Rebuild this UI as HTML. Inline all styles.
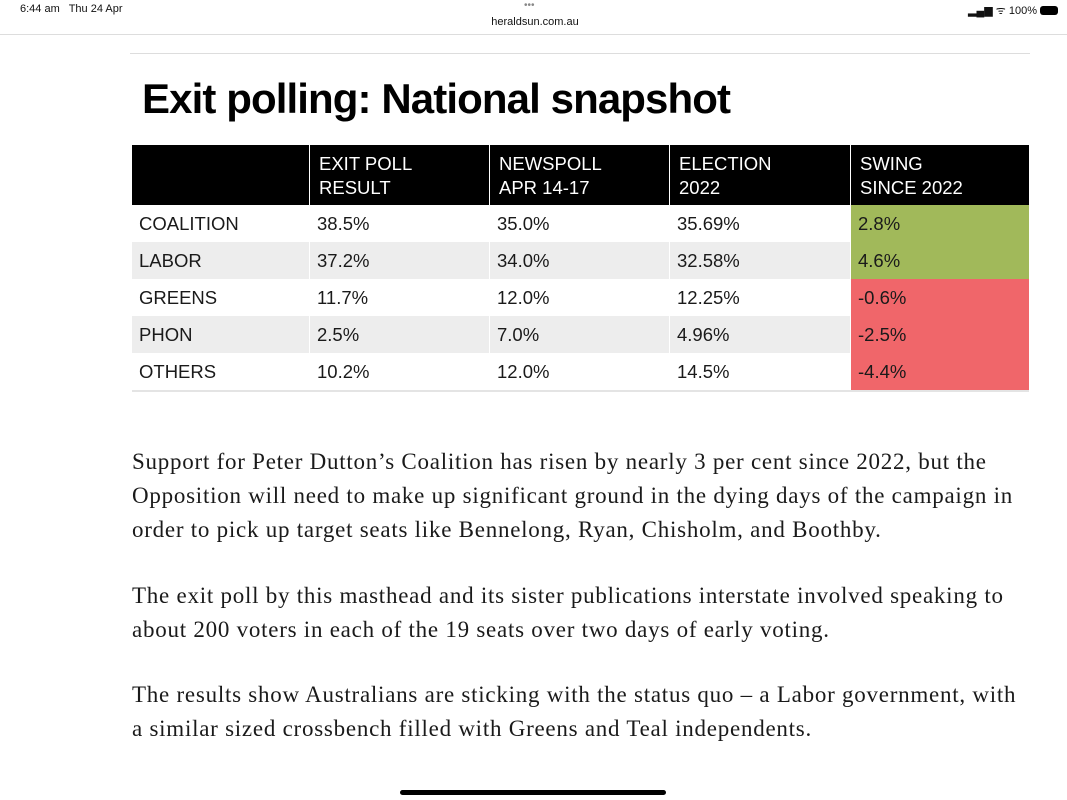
<!DOCTYPE html>
<html><head><meta charset="utf-8">
<style>
*{margin:0;padding:0;box-sizing:border-box}
body{width:1067px;height:800px;background:#fff;position:relative;overflow:hidden;font-family:"Liberation Sans",sans-serif;color:#111}
.abs{position:absolute}
.cell{position:absolute;height:37px;line-height:38px;padding-left:7px;font-size:18.5px;color:#1a1a1a}
.hd{position:absolute;top:145px;height:60px;background:#000;color:#fff;font-size:18.5px;line-height:24px;padding:7px 0 0 9px}
.p{position:absolute;left:132px;font-family:"Liberation Serif",serif;font-size:23px;letter-spacing:0.75px;color:#1a1a1a;white-space:nowrap;line-height:34px}
</style></head><body>
<div class="abs" style="left:20px;top:3px;font-size:11px">6:44 am&nbsp;&nbsp; Thu 24 Apr</div>
<div class="abs" style="left:524px;top:0px;font-size:10px;color:#888">•••</div>
<div class="abs" style="left:480px;top:16px;font-size:11px;width:110px;text-align:center">heraldsun.com.au</div>
<div class="abs" style="left:968px;top:3px;font-size:11px">▂▄▆ ᯤ 100% <span style="display:inline-block;width:18px;height:9px;background:#000;border-radius:3px;vertical-align:-1px"></span></div>
<div class="abs" style="left:0;top:34px;width:1067px;height:1px;background:#ddd"></div>
<div class="abs" style="left:130px;top:53px;width:900px;height:1px;background:#ddd"></div>
<div class="abs" style="left:142px;top:75px;font-size:42px;font-weight:bold;letter-spacing:-0.9px;color:#000">Exit polling: National snapshot</div>

<div>
<div class="hd" style="left:132px;width:177px"></div>
<div class="hd" style="left:310px;width:179px">EXIT POLL<br>RESULT</div>
<div class="hd" style="left:490px;width:179px">NEWSPOLL<br>APR 14-17</div>
<div class="hd" style="left:670px;width:180px">ELECTION<br>2022</div>
<div class="hd" style="left:851px;width:178px">SWING<br>SINCE 2022</div>
<div id="rows"></div>
<div class="abs" style="left:132px;top:390px;width:897px;height:2px;background:#e4e4e4"></div>
</div>

<div class="p" style="top:445px">Support for Peter Dutton’s Coalition has risen by nearly 3 per cent since 2022, but the<br>Opposition will need to make up significant ground in the dying days of the campaign in<br>order to pick up target seats like Bennelong, Ryan, Chisholm, and Boothby.</div>
<div class="p" style="top:579px">The exit poll by this masthead and its sister publications interstate involved speaking to<br>about 200 voters in each of the 19 seats over two days of early voting.</div>
<div class="p" style="top:678px">The results show Australians are sticking with the status quo – a Labor government, with<br>a similar sized crossbench filled with Greens and Teal independents.</div>
<div class="abs" style="left:400px;top:790px;width:266px;height:5px;border-radius:3px;background:#000"></div>

<script>
const parties=["COALITION","LABOR","GREENS","PHON","OTHERS"];
const exitPoll=["38.5%","37.2%","11.7%","2.5%","10.2%"];
const newspoll=["35.0%","34.0%","12.0%","7.0%","12.0%"];
const election=["35.69%","32.58%","12.25%","4.96%","14.5%"];
const swing=[2.8,4.6,-0.6,-2.5,-4.4];
const cols=[[132,177],[310,179],[490,179],[670,180],[851,178]];
const rows=document.getElementById('rows');
parties.forEach((p,i)=>{
  const top=205+i*37;
  const bg=i%2?'#ededed':'#fff';
  const vals=[p,exitPoll[i],newspoll[i],election[i],swing[i].toFixed(1)+'%'];
  vals.forEach((v,j)=>{
    const d=document.createElement('div');
    d.className='cell';
    
    
    d.style.left=cols[j][0]+'px';d.style.width=cols[j][1]+'px';d.style.top=top+'px';
    d.style.background=j===4?(swing[i]>=0?'#a1b95a':'#f0666a'):bg;
    d.textContent=v;
    rows.appendChild(d);
  });
});
</script>
</body></html>
